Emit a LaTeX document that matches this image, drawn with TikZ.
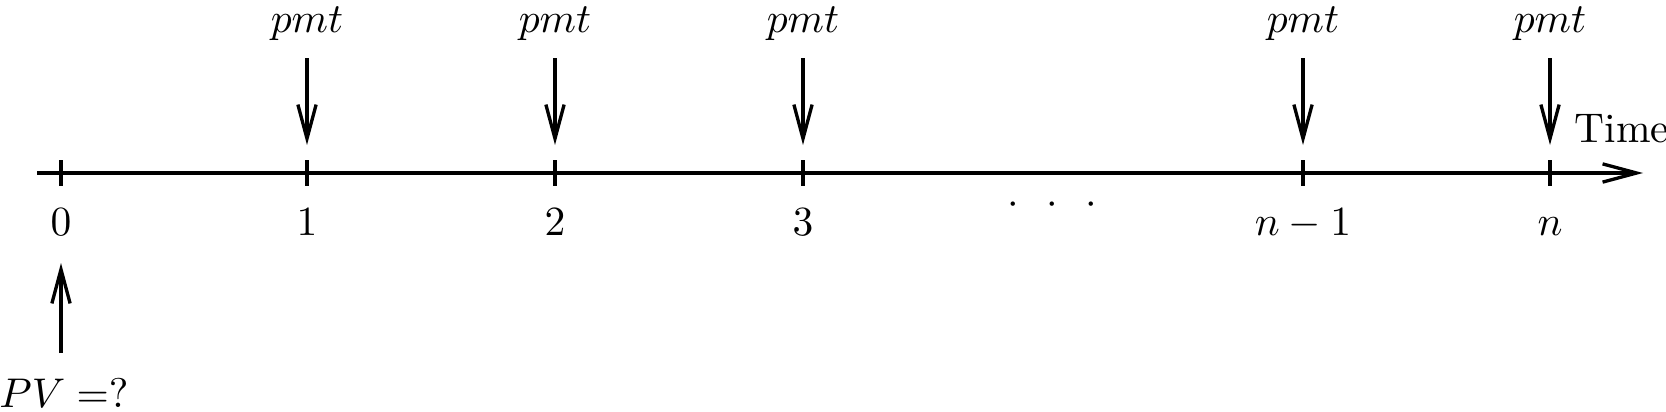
\documentclass[tikz,border=0pt]{standalone}
\usetikzlibrary{arrows.meta}
\begin{document}
\begin{tikzpicture}[x=0.241pt,y=-0.241pt,
  tipstyle/.style={-{Straight Barb[length=8.2pt,width=4.4pt]}},
  axisline/.style={thick,tipstyle},
  tickline/.style={thick},
  flow/.style={thick,tipstyle},
  lbl/.style={inner sep=0pt,anchor=base}]
\useasboundingbox (0,0) rectangle (1666,411);
% axis
\coordinate (a0) at (37,173);
\coordinate (a1) at (1643,173);
\draw[axisline] (a0) -- (a1);
% ticks and labels
\foreach \x/\name/\t in {61/t0/0,307/t1/1,555/t2/2,803/t3/3,1303/t5/n-1,1550/t6/n}{
  \coordinate (\name) at (\x,173);
  \draw[tickline] (\x,160) -- (\x,186);
  \node[lbl] (l\name) at (\x,235) {$\t$};
}
% payments
\foreach \x/\name in {307/p1,555/p2,803/p3,1303/p5,1550/p6}{
  \node[lbl] (\name) at (\x,33) {$pmt$};
  \coordinate (\name s) at (\x,58);
  \coordinate (\name e) at (\x,145);
  \draw[flow] (\name s) -- (\name e);
}
% dots
\node[inner sep=0pt] (dots) at (1052,205) {$\cdot$\hspace{6.6pt}$\cdot$\hspace{6.6pt}$\cdot$};
% Time
\node[inner sep=0pt,anchor=base west] (time) at (1574,142) {Time};
% PV
\node[lbl] (pv) at (64,407) {$PV=?$};
\coordinate (pvs) at (61,353);
\coordinate (pve) at (61,263);
\draw[flow] (pvs) -- (pve);
\end{tikzpicture}
\end{document}
